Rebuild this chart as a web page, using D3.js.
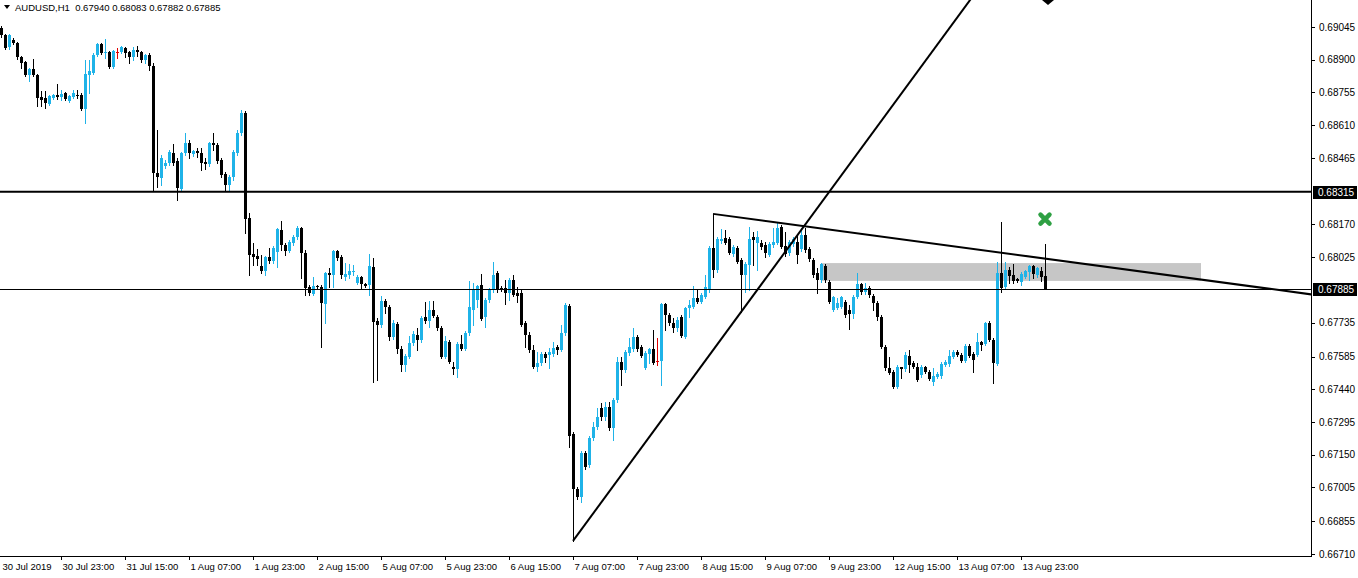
<!DOCTYPE html>
<html><head><meta charset="utf-8">
<script src="https://cdn.jsdelivr.net/npm/d3@7"></script>
<style>
body{margin:0;background:#fff;}
svg{display:block;font-family:"Liberation Sans",Arial,sans-serif;}
</style>
</head><body>
<svg id="c" width="1358" height="578"></svg>
<script>
// ---------- DATA ----------
const symbolTitle = "AUDUSD,H1";
const lastOHLC = ["0.67940","0.68083","0.67882","0.67885"];

const open = [
0.69041,0.69010,0.68956,0.68987,0.68974,0.68912,0.68890,0.68832,0.68859,0.68832,
0.68735,0.68730,0.68704,0.68730,0.68744,0.68735,0.68753,0.68717,0.68735,0.68744,
0.68744,0.68682,0.68832,0.68841,0.68921,0.68970,0.68930,0.68934,0.68868,0.68934,
0.68934,0.68952,0.68934,0.68912,0.68943,0.68934,0.68899,0.68921,0.68872,0.68398,
0.68376,0.68429,0.68442,0.68487,0.68451,0.68327,0.68487,0.68531,0.68482,0.68496,
0.68487,0.68447,0.68438,0.68531,0.68522,0.68456,0.68394,0.68345,0.68380,0.68487,
0.68575,0.68664,0.68199,0.68039,0.68030,0.67986,0.67964,0.68026,0.68008,0.68048,
0.68146,0.68079,0.68053,0.68088,0.68115,0.68155,0.68044,0.67893,0.67862,0.67897,
0.67893,0.67818,0.67955,0.67946,0.68053,0.68026,0.67937,0.67946,0.67959,0.67911,
0.67937,0.67906,0.67902,0.67982,0.67742,0.67725,0.67831,0.67804,0.67672,0.67729,
0.67618,0.67547,0.67583,0.67645,0.67680,0.67658,0.67760,0.67742,0.67791,0.67760,
0.67711,0.67583,0.67649,0.67539,0.67530,0.67641,0.67618,0.67689,0.67791,0.67835,
0.67902,0.67760,0.67835,0.67880,0.67955,0.67889,0.67889,0.67866,0.67924,0.67866,
0.67866,0.67734,0.67680,0.67614,0.67539,0.67556,0.67596,0.67592,0.67596,0.67627,
0.67614,0.67689,0.67809,0.67242,0.66998,0.66963,0.67158,0.67104,0.67224,0.67273,
0.67357,0.67317,0.67361,0.67268,0.67392,0.67561,0.67525,0.67601,0.67618,0.67672,
0.67627,0.67534,0.67596,0.67618,0.67565,0.67565,0.67818,0.67769,0.67734,0.67711,
0.67760,0.67672,0.67800,0.67804,0.67844,0.67827,0.67849,0.67880,0.68066,0.67968,
0.68097,0.68110,0.68106,0.68039,0.68066,0.68013,0.67946,0.67991,0.68115,0.68088,
0.68088,0.68079,0.68035,0.68079,0.68088,0.68159,0.68075,0.68044,0.68084,0.68092,
0.68061,0.68123,0.68061,0.68013,0.67955,0.67924,0.67986,0.67915,0.67791,0.67800,
0.67804,0.67827,0.67791,0.67773,0.67849,0.67906,0.67871,0.67889,0.67853,0.67822,
0.67760,0.67627,0.67534,0.67516,0.67450,0.67539,0.67530,0.67587,0.67556,0.67539,
0.67503,0.67539,0.67516,0.67472,0.67494,0.67499,0.67547,0.67552,0.67583,0.67605,
0.67592,0.67565,0.67632,0.67596,0.67592,0.67649,0.67641,0.67734,0.67658,0.67552,
0.67955,0.67893,0.67968,0.67946,0.67928,0.67915,0.67937,0.67959,0.67986,0.67946,
0.67964,0.67940];

const high = [
0.69049,0.69014,0.69014,0.68996,0.68979,0.68917,0.68894,0.68863,0.68903,0.68837,
0.68761,0.68761,0.68744,0.68748,0.68792,0.68766,0.68757,0.68744,0.68766,0.68766,
0.68753,0.68899,0.68899,0.68930,0.68974,0.68974,0.68992,0.68939,0.68943,0.68952,
0.68961,0.68956,0.68939,0.68956,0.68961,0.68939,0.68925,0.68930,0.68886,0.68589,
0.68478,0.68456,0.68500,0.68527,0.68465,0.68491,0.68575,0.68544,0.68500,0.68509,
0.68509,0.68465,0.68535,0.68575,0.68531,0.68465,0.68403,0.68389,0.68500,0.68589,
0.68677,0.68673,0.68221,0.68088,0.68061,0.68035,0.68030,0.68066,0.68075,0.68155,
0.68186,0.68088,0.68101,0.68123,0.68163,0.68159,0.68057,0.67902,0.67937,0.67902,
0.67902,0.67959,0.67977,0.68057,0.68057,0.68035,0.67999,0.67995,0.67991,0.67946,
0.67942,0.67911,0.68039,0.68022,0.67756,0.67853,0.67840,0.67813,0.67747,0.67738,
0.67632,0.67596,0.67676,0.67698,0.67711,0.67765,0.67827,0.67831,0.67831,0.67769,
0.67720,0.67676,0.67658,0.67561,0.67649,0.67680,0.67698,0.67920,0.67911,0.67902,
0.67951,0.67844,0.67889,0.68004,0.67964,0.67897,0.67924,0.67933,0.67946,0.67893,
0.67880,0.67742,0.67694,0.67636,0.67605,0.67605,0.67605,0.67623,0.67649,0.67636,
0.67725,0.67822,0.67818,0.67251,0.67007,0.67166,0.67166,0.67233,0.67295,0.67357,
0.67379,0.67384,0.67384,0.67401,0.67583,0.67583,0.67614,0.67667,0.67711,0.67680,
0.67636,0.67610,0.67623,0.67703,0.67667,0.67822,0.67822,0.67778,0.67756,0.67760,
0.67769,0.67804,0.67835,0.67897,0.67884,0.67866,0.67946,0.68075,0.68217,0.68115,
0.68150,0.68146,0.68115,0.68079,0.68075,0.68022,0.68004,0.68159,0.68137,0.68141,
0.68101,0.68092,0.68092,0.68155,0.68181,0.68168,0.68137,0.68101,0.68115,0.68123,
0.68155,0.68155,0.68070,0.68022,0.67977,0.67999,0.67995,0.67924,0.67853,0.67844,
0.67853,0.67835,0.67813,0.67858,0.67955,0.67911,0.67911,0.67897,0.67862,0.67831,
0.67769,0.67636,0.67583,0.67525,0.67547,0.67539,0.67605,0.67614,0.67565,0.67556,
0.67547,0.67543,0.67525,0.67534,0.67516,0.67561,0.67570,0.67614,0.67614,0.67614,
0.67601,0.67641,0.67641,0.67605,0.67689,0.67654,0.67738,0.67742,0.67667,0.68004,
0.68181,0.68004,0.67982,0.67995,0.67933,0.67959,0.67968,0.67991,0.67991,0.67982,
0.67982,0.68083];

const low = [
0.69001,0.68948,0.68948,0.68970,0.68903,0.68863,0.68828,0.68806,0.68828,0.68695,
0.68695,0.68686,0.68699,0.68726,0.68726,0.68722,0.68722,0.68713,0.68730,0.68730,
0.68677,0.68620,0.68753,0.68837,0.68917,0.68925,0.68908,0.68863,0.68863,0.68908,
0.68930,0.68912,0.68886,0.68899,0.68917,0.68890,0.68886,0.68855,0.68323,0.68336,
0.68345,0.68420,0.68434,0.68434,0.68279,0.68323,0.68478,0.68465,0.68473,0.68469,
0.68411,0.68416,0.68429,0.68500,0.68442,0.68380,0.68323,0.68323,0.68367,0.68478,
0.68566,0.68132,0.67946,0.67991,0.67991,0.67955,0.67946,0.67999,0.67999,0.67982,
0.68057,0.68035,0.68048,0.68079,0.68106,0.67933,0.67858,0.67858,0.67858,0.67884,
0.67627,0.67734,0.67893,0.67893,0.68013,0.67933,0.67924,0.67933,0.67946,0.67906,
0.67889,0.67893,0.67858,0.67472,0.67481,0.67716,0.67778,0.67658,0.67663,0.67601,
0.67521,0.67521,0.67578,0.67636,0.67614,0.67649,0.67734,0.67716,0.67760,0.67703,
0.67578,0.67578,0.67556,0.67508,0.67494,0.67614,0.67614,0.67680,0.67725,0.67804,
0.67747,0.67716,0.67827,0.67871,0.67871,0.67875,0.67818,0.67835,0.67853,0.67827,
0.67720,0.67627,0.67605,0.67534,0.67521,0.67547,0.67561,0.67534,0.67587,0.67596,
0.67610,0.67680,0.67184,0.66768,0.66954,0.66940,0.67087,0.67096,0.67215,0.67264,
0.67304,0.67304,0.67259,0.67215,0.67384,0.67459,0.67516,0.67592,0.67610,0.67610,
0.67583,0.67530,0.67556,0.67552,0.67547,0.67459,0.67703,0.67725,0.67694,0.67698,
0.67672,0.67667,0.67760,0.67800,0.67822,0.67822,0.67844,0.67871,0.67937,0.67959,
0.68088,0.68084,0.68039,0.68030,0.67999,0.67782,0.67871,0.67880,0.67991,0.67968,
0.68061,0.68026,0.68030,0.68070,0.68084,0.68066,0.68030,0.68035,0.68075,0.67999,
0.68053,0.68048,0.68008,0.67937,0.67866,0.67915,0.67915,0.67822,0.67787,0.67796,
0.67800,0.67760,0.67707,0.67756,0.67844,0.67862,0.67862,0.67849,0.67791,0.67747,
0.67623,0.67525,0.67508,0.67446,0.67446,0.67490,0.67521,0.67516,0.67534,0.67477,
0.67494,0.67512,0.67481,0.67459,0.67490,0.67490,0.67543,0.67543,0.67578,0.67587,
0.67561,0.67561,0.67583,0.67516,0.67587,0.67614,0.67636,0.67654,0.67468,0.67547,
0.67871,0.67889,0.67911,0.67911,0.67915,0.67902,0.67933,0.67924,0.67933,0.67937,
0.67920,0.67882];

const close = [
0.69010,0.68952,0.69010,0.68974,0.68912,0.68886,0.68832,0.68859,0.68832,0.68730,
0.68722,0.68708,0.68739,0.68744,0.68735,0.68748,0.68726,0.68739,0.68753,0.68739,
0.68682,0.68837,0.68850,0.68921,0.68970,0.68930,0.68934,0.68868,0.68939,0.68934,
0.68956,0.68930,0.68912,0.68943,0.68934,0.68899,0.68921,0.68872,0.68398,0.68380,
0.68465,0.68442,0.68491,0.68442,0.68332,0.68487,0.68531,0.68487,0.68496,0.68487,
0.68442,0.68438,0.68531,0.68522,0.68451,0.68389,0.68345,0.68380,0.68491,0.68575,
0.68664,0.68194,0.68035,0.68026,0.68017,0.67964,0.68026,0.68008,0.68066,0.68150,
0.68079,0.68053,0.68092,0.68115,0.68155,0.68044,0.67889,0.67866,0.67897,0.67893,
0.67822,0.67955,0.67946,0.68053,0.68022,0.67946,0.67951,0.67964,0.67964,0.67937,
0.67906,0.67897,0.67986,0.67738,0.67725,0.67831,0.67804,0.67672,0.67734,0.67618,
0.67547,0.67587,0.67645,0.67685,0.67658,0.67756,0.67742,0.67791,0.67765,0.67711,
0.67583,0.67654,0.67561,0.67530,0.67641,0.67618,0.67689,0.67804,0.67880,0.67897,
0.67751,0.67835,0.67880,0.67946,0.67884,0.67880,0.67866,0.67924,0.67858,0.67853,
0.67725,0.67680,0.67614,0.67539,0.67556,0.67596,0.67578,0.67605,0.67623,0.67614,
0.67689,0.67813,0.67233,0.66998,0.66963,0.67158,0.67096,0.67224,0.67273,0.67317,
0.67317,0.67361,0.67268,0.67392,0.67561,0.67525,0.67605,0.67627,0.67672,0.67618,
0.67587,0.67601,0.67618,0.67556,0.67565,0.67818,0.67769,0.67734,0.67711,0.67747,
0.67676,0.67800,0.67813,0.67844,0.67827,0.67858,0.67893,0.68066,0.67968,0.68106,
0.68106,0.68088,0.68044,0.68070,0.68004,0.67946,0.67995,0.68106,0.68101,0.68115,
0.68070,0.68044,0.68084,0.68092,0.68155,0.68070,0.68039,0.68092,0.68106,0.68035,
0.68123,0.68057,0.68017,0.67946,0.67924,0.67995,0.67924,0.67827,0.67849,0.67822,
0.67849,0.67769,0.67773,0.67849,0.67906,0.67871,0.67889,0.67858,0.67822,0.67760,
0.67627,0.67534,0.67512,0.67450,0.67539,0.67530,0.67592,0.67547,0.67539,0.67481,
0.67539,0.67516,0.67486,0.67499,0.67508,0.67552,0.67561,0.67587,0.67605,0.67592,
0.67565,0.67632,0.67587,0.67570,0.67649,0.67636,0.67734,0.67658,0.67556,0.67955,
0.67889,0.67968,0.67942,0.67920,0.67920,0.67951,0.67964,0.67986,0.67951,0.67977,
0.67937,0.67885];

// time axis labels (one every 16 H1 bars)
const dateLabels = ["30 Jul 2019","30 Jul 23:00","31 Jul 15:00","1 Aug 07:00","1 Aug 23:00","2 Aug 15:00","5 Aug 07:00","5 Aug 23:00","6 Aug 15:00","7 Aug 07:00","7 Aug 23:00","8 Aug 15:00","9 Aug 07:00","9 Aug 23:00","12 Aug 15:00","13 Aug 07:00","13 Aug 23:00"];
const dateBars = [0,16,32,48,64,80,96,112,128,144,160,176,192,208,224,240,256];

// price axis labels
const priceTicks = [0.69045,0.68900,0.68755,0.68610,0.68465,0.68170,0.68025,0.67735,0.67585,0.67440,0.67295,0.67150,0.67005,0.66855,0.66710];
const priceDomain = [0.66710, 0.69045];

// drawn objects
const hLevel = 0.68315;        // horizontal support/resistance line
const bidPrice = 0.67885;      // current price line
const trendUpBars = [143, 185], trendUpPrices = [0.66768, 0.67782];
const trendDownBars = [178, 261], trendDownPrices = [0.68217, 0.68019];
const zoneBars = [205, 300], zonePrices = [0.67999, 0.67920];
const markerBar = 261, markerPrice = 0.68194;

// ---------- DRAW ----------
const BULL = "#1fb3e8", BEAR = "#000000", DOJI = "#e00000";
const plotRight = 1311, plotBottom = 556;
const svg = d3.select("#c");
const x = d3.scaleLinear().domain([0, 327]).range([1, 1309]);
const y = d3.scaleLinear().domain(priceDomain).range([554, 27]);

svg.append("defs").append("clipPath").attr("id","clip")
  .append("rect").attr("x",0).attr("y",0).attr("width",plotRight).attr("height",plotBottom);

const g = svg.append("g").attr("clip-path","url(#clip)");

// zone rectangle (background)
g.append("rect")
  .attr("x", x(zoneBars[0])).attr("width", x(zoneBars[1]) - x(zoneBars[0]))
  .attr("y", y(zonePrices[0])).attr("height", y(zonePrices[1]) - y(zonePrices[0]))
  .attr("fill", "#c6c6c6");

const idx = d3.range(open.length);
const col = i => close[i] > open[i] ? BULL : (close[i] < open[i] ? BEAR : DOJI);
const cg = g.append("g").attr("shape-rendering","crispEdges");
cg.selectAll("line.w").data(idx).join("line").attr("class","w")
  .attr("x1", i => Math.round(x(i)) + 0.5).attr("x2", i => Math.round(x(i)) + 0.5)
  .attr("y1", i => Math.round(y(high[i]))).attr("y2", i => Math.round(y(low[i])) + 1)
  .attr("stroke", col).attr("stroke-width", 1);
cg.selectAll("rect.b").data(idx).join("rect").attr("class","b")
  .attr("x", i => Math.round(x(i)) - 1).attr("width", 3)
  .attr("y", i => Math.round(y(Math.max(open[i], close[i]))))
  .attr("height", i => Math.max(1, Math.round(y(Math.min(open[i], close[i]))) - Math.round(y(Math.max(open[i], close[i])))))
  .attr("fill", col);

// horizontal lines
g.append("line").attr("x1",0).attr("x2",plotRight).attr("y1",y(hLevel)).attr("y2",y(hLevel))
  .attr("stroke","#000").attr("stroke-width",2);
g.append("line").attr("x1",0).attr("x2",plotRight).attr("y1",Math.round(y(bidPrice))+0.5).attr("y2",Math.round(y(bidPrice))+0.5)
  .attr("stroke","#000").attr("stroke-width",1);

// trend rays
function ray(bars, prices){
  const x1 = x(bars[0]), y1 = y(prices[0]), x2 = x(bars[1]), y2 = y(prices[1]);
  const s = (y2 - y1) / (x2 - x1);
  const xe = plotRight + 5;
  g.append("line").attr("x1",x1).attr("y1",y1).attr("x2",xe).attr("y2",y1 + s*(xe - x1))
    .attr("stroke","#000").attr("stroke-width",2);
}
ray(trendUpBars, trendUpPrices);
ray(trendDownBars, trendDownPrices);

// green cross marker
const mx = x(markerBar), my = y(markerPrice);
g.append("path").attr("d",`M${mx-4.5},${my-4.5}L${mx+4.5},${my+4.5}M${mx+4.5},${my-4.5}L${mx-4.5},${my+4.5}`)
  .attr("stroke","#2ea043").attr("stroke-width",4.5).attr("stroke-linecap","round");
// black arrow tip at top
g.append("path").attr("d",`M${mx-3},0L${mx+9},0L${mx+3},5Z`).attr("fill","#000");

// axes lines
svg.append("line").attr("x1",plotRight+0.5).attr("x2",plotRight+0.5).attr("y1",0).attr("y2",plotBottom+1)
  .attr("stroke","#000").attr("shape-rendering","crispEdges");
svg.append("line").attr("x1",0).attr("x2",plotRight+1).attr("y1",plotBottom+0.5).attr("y2",plotBottom+0.5)
  .attr("stroke","#000").attr("shape-rendering","crispEdges");

// price axis
const ya = svg.append("g").attr("transform",`translate(${plotRight+1},0)`)
  .call(d3.axisRight(y).tickValues(priceTicks).tickFormat(d3.format(".5f")).tickSize(3).tickPadding(4));
ya.select(".domain").remove();
ya.selectAll("text").attr("font-size",10).attr("font-family","Liberation Sans, Arial, sans-serif").attr("fill","#000");
ya.selectAll("line").attr("stroke","#000").attr("shape-rendering","crispEdges");

// highlighted price labels
[[hLevel],[bidPrice]].forEach(([p])=>{
  const yy = Math.round(y(p));
  svg.append("rect").attr("x",plotRight+2).attr("y",yy-6).attr("width",44).attr("height",13).attr("fill","#000");
  svg.append("text").attr("x",plotRight+7).attr("y",yy+4).attr("fill","#fff").attr("font-size",10)
    .text(d3.format(".5f")(p));
});

// time axis
const xa = svg.append("g").attr("transform",`translate(-4,${plotBottom+1})`)
  .call(d3.axisBottom(x).tickValues(dateBars).tickFormat((d,i)=>dateLabels[i]).tickSize(3).tickPadding(3));
xa.select(".domain").remove();
xa.selectAll("text").attr("text-anchor","start").attr("dx","0.1em").attr("font-size",9.5)
  .attr("font-family","Liberation Sans, Arial, sans-serif").attr("fill","#000");
xa.selectAll("text").filter((d,i)=>i===0).attr("x",4);
xa.selectAll("line").attr("stroke","#000").attr("shape-rendering","crispEdges");

// header
svg.append("path").attr("d","M4,5L10,5L7,9Z").attr("fill","#000");
svg.append("text").attr("x",15).attr("y",11).attr("font-size",9.5).attr("fill","#000")
  .attr("xml:space","preserve")
  .text(symbolTitle + "  " + lastOHLC.join(" "));
</script>
</body></html>
